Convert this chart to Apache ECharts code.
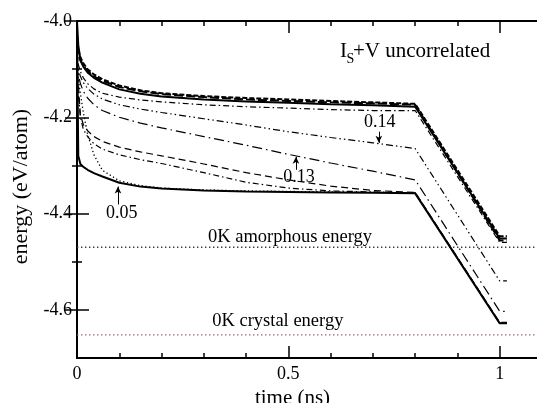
<!DOCTYPE html>
<html>
<head>
<meta charset="utf-8">
<script src="https://cdn.jsdelivr.net/npm/echarts@6/dist/echarts.min.js"></script>
<style>
html, body { margin: 0; padding: 0; background: #fff; }
#chart { width: 537px; height: 403px; }
</style>
</head>
<body>
<div id="chart"></div>
<script>
// time samples (ns), shared by every curve
var times = [0, 0.003, 0.008, 0.015, 0.025, 0.04, 0.06, 0.1, 0.15, 0.2, 0.3, 0.4, 0.5, 0.6, 0.7, 0.8, 1.0, 1.017];

// energies (eV/atom)
var topSolid  = [-4.00, -4.05, -4.08, -4.095, -4.107, -4.118, -4.128, -4.142, -4.151, -4.157, -4.163, -4.167, -4.170, -4.173, -4.175, -4.178, -4.452, -4.452];
var topDash   = [-4.03, -4.06, -4.075, -4.088, -4.100, -4.111, -4.121, -4.134, -4.144, -4.150, -4.156, -4.160, -4.163, -4.166, -4.169, -4.172, -4.447, -4.447];
var topLong   = [-4.05, -4.07, -4.082, -4.093, -4.104, -4.115, -4.124, -4.137, -4.146, -4.152, -4.158, -4.163, -4.166, -4.169, -4.171, -4.174, -4.456, -4.456];
var topDashDot = [-4.06, -4.09, -4.105, -4.118, -4.130, -4.141, -4.150, -4.158, -4.164, -4.168, -4.174, -4.178, -4.181, -4.184, -4.186, -4.186, -4.460, -4.460];
var rate014   = [-4.07, -4.10, -4.115, -4.128, -4.140, -4.152, -4.162, -4.174, -4.183, -4.190, -4.203, -4.216, -4.230, -4.242, -4.253, -4.265, -4.540, -4.540];
var rate013   = [-4.08, -4.11, -4.130, -4.146, -4.160, -4.174, -4.186, -4.200, -4.212, -4.222, -4.240, -4.258, -4.277, -4.295, -4.312, -4.330, -4.603, -4.603];
var midDash   = [-4.09, -4.13, -4.195, -4.215, -4.228, -4.240, -4.250, -4.262, -4.272, -4.280, -4.297, -4.315, -4.330, -4.343, -4.352, -4.356, -4.626, -4.626];
var midDashDot = [-4.10, -4.15, -4.200, -4.225, -4.240, -4.255, -4.266, -4.278, -4.288, -4.296, -4.315, -4.335, -4.347, -4.353, -4.355, -4.357, -4.628, -4.628];
var lowDot    = [-4.06, -4.12, -4.150, -4.190, -4.235, -4.278, -4.310, -4.332, -4.342, -4.347, -4.351, -4.353, -4.354, -4.355, -4.356, -4.357, -4.627, -4.627];
var rate005   = [-4.02, -4.28, -4.297, -4.303, -4.309, -4.316, -4.323, -4.336, -4.344, -4.348, -4.352, -4.354, -4.355, -4.356, -4.357, -4.358, -4.628, -4.628];

var amorphousE = -4.47;
var crystalE = -4.652;

var xMajorTicks = [0, 0.5, 1];
var xMinorTicks = [0.1, 0.2, 0.3, 0.4, 0.6, 0.7, 0.8, 0.9];
var yMajorTicks = [-4.6, -4.4, -4.2, -4.0];
var yMinorTicks = [-4.5, -4.3, -4.1];

var serif = 'Liberation Serif';
var chart = echarts.init(document.getElementById('chart'));

function pairs(ys) {
    return times.map(function (t, i) { return [t, ys[i]]; });
}
function curve(ys, width, dash) {
    return {
        type: 'line', data: pairs(ys), symbol: 'none', silent: true,
        lineStyle: { color: '#000', width: width, type: dash }
    };
}
function flat(e, color) {
    return {
        type: 'line', data: [[0, e], [1.1, e]], symbol: 'none', silent: true,
        lineStyle: { color: color, width: 1.4, type: [1.4, 2.6] }
    };
}
function xAx(pos, ticks, len, labels) {
    return {
        type: 'value', position: pos, min: 0, max: 1.1,
        axisLine: { show: false }, splitLine: { show: false },
        axisTick: { show: true, inside: true, length: len, customValues: ticks, lineStyle: { color: '#000', width: 1.5 } },
        axisLabel: labels ? { show: true, customValues: ticks, margin: 7, color: '#000', fontFamily: serif, fontSize: 18 } : { show: false }
    };
}
function yAx(pos, ticks, len, labels) {
    return {
        type: 'value', position: pos, min: -4.7, max: -4.0,
        axisLine: { show: false }, splitLine: { show: false },
        axisTick: { show: true, inside: true, length: len, customValues: ticks, lineStyle: { color: '#000', width: 1.5 } },
        axisLabel: labels ? {
            show: true, customValues: ticks, margin: 5, color: '#000', fontFamily: serif, fontSize: 18,
            formatter: function (v) { return v.toFixed(1); }
        } : { show: false }
    };
}

var xAxes = [xAx('bottom', xMajorTicks, 12, true), xAx('bottom', xMinorTicks, 5, false),
             xAx('top', xMajorTicks, 12, false), xAx('top', xMinorTicks, 5, false)];
xAxes[0].name = 'time (ns)';
xAxes[0].nameLocation = 'middle';
xAxes[0].nameGap = 19;
xAxes[0].nameTextStyle = { color: '#000', fontFamily: serif, fontSize: 21, padding: [0, 34, 0, 0] };

var yAxes = [yAx('left', yMajorTicks, 12, true), yAx('left', yMinorTicks, 5, false),
             yAx('right', yMajorTicks, 12, false), yAx('right', yMinorTicks, 5, false)];
yAxes[0].name = 'energy (eV/atom)';
yAxes[0].nameLocation = 'middle';
yAxes[0].nameGap = 45;
yAxes[0].nameTextStyle = { color: '#000', fontFamily: serif, fontSize: 22, padding: [0, 0, 0, 6] };

var arrows = flat(amorphousE, '#3a3a3a');
arrows.markLine = {
    silent: true, symbol: ['none', 'arrow'], symbolSize: [5, 7], animation: false,
    label: { show: false },
    lineStyle: { color: '#000', width: 1, type: 'solid' },
    data: [
        [{ coord: [0.097, -4.381] }, { coord: [0.097, -4.344] }],
        [{ coord: [0.518, -4.309] }, { coord: [0.518, -4.282] }],
        [{ coord: [0.714, -4.230] }, { coord: [0.714, -4.253] }]
    ]
};

var option = {
    animation: false,
    grid: {
        left: 77, right: -5, top: 21, bottom: 45, outerBoundsMode: 'none',
        show: true, borderColor: '#000', borderWidth: 2, backgroundColor: 'transparent'
    },
    xAxis: xAxes,
    yAxis: yAxes,
    series: [
        arrows,
        flat(crystalE, '#b04a8c'),
        curve(rate005, 2, 'solid'),
        curve(lowDot, 1.3, [1.3, 2.5]),
        curve(midDashDot, 1.2, [6, 3, 1.5, 3]),
        curve(midDash, 1.2, [7, 4]),
        curve(rate013, 1.2, [10, 4, 1.5, 4]),
        curve(rate014, 1.2, [7, 3, 1.5, 3, 1.5, 3]),
        curve(topDashDot, 1.2, [6, 3, 1.5, 3]),
        curve(topLong, 2, [9, 3]),
        curve(topDash, 2, [5, 2]),
        curve(topSolid, 2, 'solid')
    ]
};
chart.setOption(option);

function px(x, y) { return chart.convertToPixel({ xAxisIndex: 0, yAxisIndex: 0 }, [x, y]); }
function note(txt, x, y, size) {
    var p = px(x, y);
    return { type: 'text', x: p[0], y: p[1], silent: true,
        style: { text: txt, fill: '#000', font: size + 'px "' + serif + '"', align: 'center', verticalAlign: 'middle' } };
}
var t0 = px(0.622, -4.063);
chart.setOption({
    graphic: [
        note('0.05', 0.106, -4.400, 18),
        note('0.13', 0.525, -4.325, 18),
        note('0.14', 0.716, -4.211, 18),
        note('0K amorphous energy', 0.504, -4.448, 18.5),
        note('0K crystal energy', 0.475, -4.624, 18.5),
        { type: 'text', x: t0[0], y: t0[1], silent: true,
          style: { text: 'I', fill: '#000', font: '21px "' + serif + '"', align: 'left', verticalAlign: 'middle' } },
        { type: 'text', x: t0[0] + 6.5, y: t0[1] + 8, silent: true,
          style: { text: 'S', fill: '#000', font: '14px "' + serif + '"', align: 'left', verticalAlign: 'middle' } },
        { type: 'text', x: t0[0] + 13, y: t0[1], silent: true,
          style: { text: '+V uncorrelated', fill: '#000', font: '21px "' + serif + '"', align: 'left', verticalAlign: 'middle' } }
    ]
});
</script>
</body>
</html>
